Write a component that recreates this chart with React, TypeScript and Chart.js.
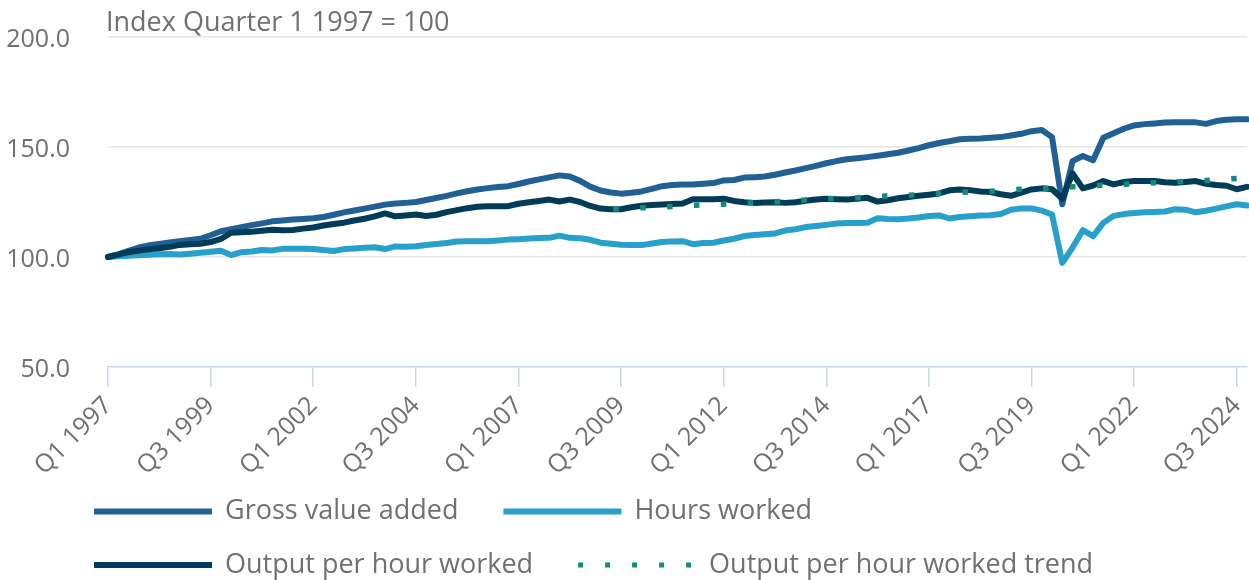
import { useEffect, useRef } from 'react';
import { Chart, registerables } from 'chart.js';

Chart.register(...registerables);

const QUARTERS: string[] = [];
for (let y = 1997; y <= 2024; y++) {
  for (let q = 1; q <= 4; q++) QUARTERS.push(`Q${q} ${y}`);
}

const GVA = [
  100.0, 101.2, 102.8, 104.3, 105.3, 105.9, 106.6, 107.2, 107.7, 108.3,
  109.9, 111.7, 112.6, 113.6, 114.5, 115.3, 116.2, 116.6, 117.0, 117.3,
  117.6, 118.2, 119.2, 120.3, 121.1, 122.0, 122.9, 123.8, 124.3, 124.6,
  125.0, 125.9, 126.8, 127.8, 128.9, 129.9, 130.7, 131.3, 131.8, 132.2,
  133.2, 134.3, 135.3, 136.2, 137.1, 136.6, 134.6, 132.0, 130.2, 129.3,
  128.8, 129.2, 129.8, 131.0, 132.2, 132.7, 132.9, 133.0, 133.3, 133.6,
  134.8, 135.0, 136.1, 136.3, 136.6, 137.4, 138.4, 139.3, 140.4, 141.4,
  142.6, 143.6, 144.4, 144.9, 145.4, 146.0, 146.7, 147.4, 148.4, 149.5,
  150.8, 151.8, 152.6, 153.5, 153.8, 153.9, 154.2, 154.5, 155.2, 156.0,
  157.2, 157.7, 154.5, 124.0, 143.6, 145.9, 144.0, 154.2, 156.3, 158.3,
  159.8, 160.4, 160.7, 161.1, 161.3, 161.3, 161.2, 160.5, 161.8, 162.4,
  162.6, 162.6,
];

const HOURS = [
  100.0, 100.3, 100.6, 100.8, 101.0, 101.3, 101.4, 101.1, 101.5, 101.9,
  102.4, 102.8, 100.9, 102.2, 102.5, 103.2, 103.0, 103.7, 103.8, 103.7,
  103.6, 103.2, 102.7, 103.6, 103.9, 104.2, 104.4, 103.6, 104.8, 104.7,
  104.9, 105.5, 105.9, 106.4, 107.0, 107.2, 107.2, 107.2, 107.5, 107.9,
  108.1, 108.4, 108.6, 108.7, 109.7, 108.7, 108.5, 107.8, 106.5, 106.0,
  105.6, 105.4, 105.4, 106.1, 106.8, 107.1, 107.2, 105.8, 106.4, 106.5,
  107.5, 108.3, 109.5, 110.0, 110.3, 110.7, 112.0, 112.6, 113.6, 114.1,
  114.6, 115.2, 115.4, 115.5, 115.6, 117.6, 117.3, 117.2, 117.5, 118.0,
  118.6, 118.9, 117.5, 118.2, 118.5, 118.9, 119.0, 119.5, 121.5, 122.1,
  122.1, 121.1, 119.3, 97.3, 104.3, 112.2, 109.5, 115.5, 118.7, 119.5,
  120.0, 120.3, 120.5, 120.7, 121.7, 121.5, 120.3, 121.0, 122.0, 123.0,
  124.0, 123.4,
];

const OPH = [
  100.0, 101.1, 102.2, 102.9, 103.5, 104.0, 104.6, 105.5, 105.8, 106.0,
  106.8, 108.2, 111.0, 111.2, 111.5, 111.9, 112.4, 112.2, 112.3, 112.9,
  113.4, 114.3, 115.0, 115.6, 116.6, 117.4, 118.5, 119.8, 118.5, 118.9,
  119.3, 118.6, 119.2, 120.4, 121.3, 122.2, 122.8, 123.1, 123.1, 123.1,
  124.2, 124.9, 125.5, 126.1, 125.2, 126.1, 125.0, 123.2, 122.0, 121.7,
  121.7, 122.6, 123.3, 123.6, 123.9, 124.1, 124.3, 126.3, 126.2, 126.3,
  126.5, 125.5, 124.9, 124.6, 124.8, 124.9, 124.6, 124.9, 125.6, 126.1,
  126.5, 126.3, 126.1, 126.5, 126.9, 125.2, 125.8, 126.7, 127.3, 127.8,
  128.3, 128.9, 130.3, 130.7, 130.4, 129.8, 129.5, 128.5, 127.8, 129.3,
  130.7, 131.2, 130.8, 126.5, 138.0, 131.2, 132.5, 134.5, 133.0, 134.1,
  134.5, 134.5, 134.5, 134.0, 133.7, 134.1, 134.5, 133.3, 132.7, 132.4,
  130.8, 131.9,
];

// Trend series begins at Q2 2009 (index 49)
const TREND_START = 49;
const TREND = [
  121.8,
  121.9, 122.1, 122.4, 122.5, 122.7, 123.0, 123.3, 123.5, 123.7, 123.8,
  124.0, 124.2, 124.4, 124.7, 124.9, 125.1, 125.4, 125.6, 125.9, 126.1,
  126.4, 126.6, 126.7, 126.9, 127.2, 127.5, 127.7, 127.9, 128.0, 128.3,
  128.6, 128.9, 129.1, 129.4, 129.6, 129.8, 129.9, 130.2, 130.5, 130.8,
  130.9, 131.1, 131.3, 131.6, 131.9, 132.1, 132.4, 132.6, 132.8, 133.0,
  133.3, 133.5, 133.8, 134.0, 134.2, 134.4, 134.6, 134.8, 135.1, 135.4,
  135.7, 135.9,
];

const SERIES_NAMES = [
  'Gross value added',
  'Hours worked',
  'Output per hour worked',
  'Output per hour worked trend',
];
const SERIES_COLORS = ['#206095', '#27a0cc', '#003c57', '#118c7b'];
const TITLE = 'Index Quarter 1 1997 = 100';
const Y_MIN = 50;
const Y_MAX = 200;
const Y_STEP = 50;
const LABEL_EVERY = 10;

const TEXT = '#707071';
const FONT = '"Open Sans", sans-serif';

const titlePlugin = {
  id: 'axisTitle',
  afterDraw(chart: any) {
    const { ctx, chartArea } = chart;
    ctx.save();
    ctx.font = `27px ${FONT}`;
    ctx.fillStyle = TEXT;
    ctx.textAlign = 'left';
    ctx.textBaseline = 'alphabetic';
    ctx.fillText(TITLE, chartArea.left - 2, chartArea.top - 6.5);
    ctx.restore();
  },
};

const legendPlugin = {
  id: 'customLegend',
  afterDraw(chart: any) {
    const ctx = chart.ctx;
    const h = chart.height;
    const rows = [[0, 1], [2, 3]];
    const rowY = [h - 68.5, h - 15];
    ctx.save();
    ctx.font = `27px ${FONT}`;
    rows.forEach((row, r) => {
      const y = rowY[r];
      let x = 94;
      row.forEach((idx) => {
        const ds = chart.data.datasets[idx];
        ctx.save();
        ctx.strokeStyle = ds.borderColor;
        ctx.lineWidth = idx === 3 ? 5 : 6;
        ctx.lineCap = 'butt';
        ctx.setLineDash(idx === 3 ? [5, 22] : []);
        ctx.beginPath();
        ctx.moveTo(x, y);
        ctx.lineTo(x + 118, y);
        ctx.stroke();
        ctx.restore();
        ctx.fillStyle = TEXT;
        ctx.textAlign = 'left';
        ctx.textBaseline = 'middle';
        ctx.fillText(ds.label, x + 131, y);
        x += 131 + ctx.measureText(ds.label).width + 45;
      });
    });
    ctx.restore();
  },
};

export default function App() {
  const ref = useRef<HTMLCanvasElement | null>(null);

  useEffect(() => {
    document.body.style.margin = '0';
    const canvas = ref.current;
    if (!canvas) return;
    Chart.defaults.font.family = FONT;

    const trendData: (number | null)[] = QUARTERS.map((_, i) =>
      i >= TREND_START ? TREND[i - TREND_START] : null
    );

    const lineBase = {
      borderWidth: 6,
      pointRadius: 0,
      borderJoinStyle: 'round' as const,
      borderCapStyle: 'round' as const,
      tension: 0,
    };

    const chart = new Chart(canvas, {
      type: 'line',
      data: {
        labels: QUARTERS,
        datasets: [
          {
            ...lineBase,
            label: SERIES_NAMES[0],
            data: GVA,
            borderColor: SERIES_COLORS[0],
            backgroundColor: SERIES_COLORS[0],
            order: 3,
          },
          {
            ...lineBase,
            label: SERIES_NAMES[1],
            data: HOURS,
            borderColor: SERIES_COLORS[1],
            backgroundColor: SERIES_COLORS[1],
            order: 2,
          },
          {
            ...lineBase,
            label: SERIES_NAMES[2],
            data: OPH,
            borderColor: SERIES_COLORS[2],
            backgroundColor: SERIES_COLORS[2],
            order: 1,
          },
          {
            label: SERIES_NAMES[3],
            data: trendData,
            borderColor: SERIES_COLORS[3],
            backgroundColor: SERIES_COLORS[3],
            borderWidth: 5.5,
            borderDash: [5.5, 21.4],
            borderDashOffset: -2.5,
            borderCapStyle: 'butt',
            pointRadius: 0,
            tension: 0,
            spanGaps: false,
            order: 0,
          },
        ],
      },
      options: {
        responsive: false,
        animation: false,
        events: [],
        layout: { padding: { top: 37, left: 0, right: 2, bottom: 0 } },
        plugins: {
          legend: { display: false },
          tooltip: { enabled: false },
          title: { display: false },
        },
        scales: {
          x: {
            type: 'category',
            afterBuildTicks: (scale: any) => {
              scale.ticks = scale.ticks.filter((t: any) => t.value % LABEL_EVERY === 0);
            },
            afterFit: (scale: any) => {
              scale.height = 213;
              scale.paddingLeft = 0;
              scale.paddingRight = 0;
            },
            ticks: {
              autoSkip: false,
              maxRotation: 45,
              minRotation: 45,
              padding: 4,
              color: TEXT,
              font: { size: 25, family: FONT },
            },
            grid: {
              drawOnChartArea: false,
              drawTicks: true,
              tickLength: 20,
              tickColor: '#ccd6eb',
              tickWidth: 1.5,
              lineWidth: 1.5,
              color: '#ccd6eb',
            },
            border: { display: true, color: '#ccd6eb', width: 1.5 },
          },
          y: {
            min: Y_MIN,
            max: Y_MAX,
            afterFit: (scale: any) => {
              scale.width = 108;
              scale.paddingTop = 0;
              scale.paddingBottom = 0;
            },
            ticks: {
              stepSize: Y_STEP,
              padding: 38,
              labelOffset: 3,
              color: TEXT,
              font: { size: 25, family: FONT },
              callback: (v: any) => Number(v).toFixed(1),
            },
            grid: {
              drawTicks: false,
              lineWidth: 1.5,
              color: (c: any) => (c.tick && c.tick.value === Y_MIN ? 'rgba(0,0,0,0)' : '#e6e6e6'),
            },
            border: { display: false },
          },
        },
      },
      plugins: [titlePlugin, legendPlugin],
    });

    return () => chart.destroy();
  }, []);

  return (
    <div style={{ width: 1249, height: 580 }}>
      <canvas ref={ref} width={1249} height={580} style={{ display: 'block' }} />
    </div>
  );
}
